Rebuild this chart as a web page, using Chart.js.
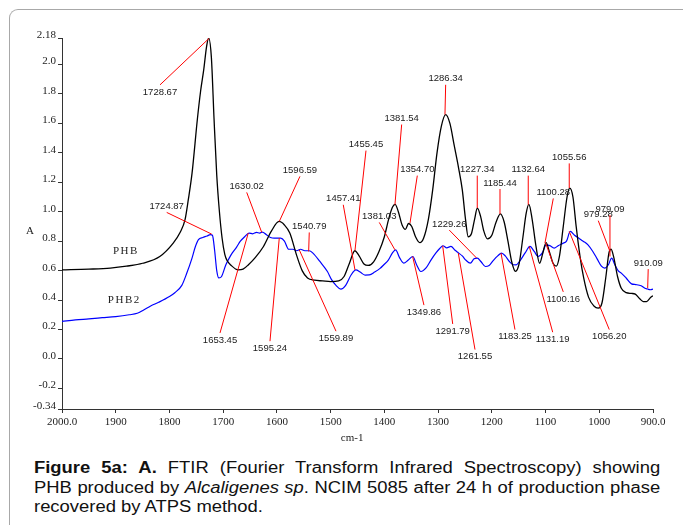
<!DOCTYPE html>
<html>
<head>
<meta charset="utf-8">
<script src="https://cdn.jsdelivr.net/npm/chart.js@4.4.0/dist/chart.umd.min.js"></script>
<style>
    body { margin: 0; background: #fff; }
    #frame {
        position: absolute; left: 9px; top: 9px; width: 690px; height: 560px;
        border-left: 1px solid #a8a8a8; border-top: 1px solid #a8a8a8;
        border-top-left-radius: 9px;
    }
    #ftir-chart { position: absolute; left: 0; top: 0; }
    /* the source figure is stretched sideways, so the caption is too */
    #caption {
        position: absolute; left: 34px; top: 458px; width: 544px;
        transform: scaleX(1.151); transform-origin: 0 0;
        font-family: "Liberation Sans", Arial, sans-serif; font-size: 16px;
        line-height: 19.5px; color: #111;
    }
    .justified { text-align: justify; text-align-last: justify; }
</style>
</head>
<body>
<div id="frame"></div>
<canvas id="ftir-chart" width="683" height="450"></canvas>
<div id="caption">
    <div class="justified"><b>Figure 5a: A.</b> FTIR (Fourier Transform Infrared Spectroscopy) showing</div>
    <div class="justified">PHB produced by <i>Alcaligenes sp</i>. NCIM 5085 after 24 h of production phase</div>
    <div>recovered by ATPS method.</div>
</div>
<script>
// --- Data ---
const xTicks = [2000, 1900, 1800, 1700, 1600, 1500, 1400, 1300, 1200, 1100, 1000, 900];
const yTicks = [2.18, 2.0, 1.8, 1.6, 1.4, 1.2, 1.0, 0.8, 0.6, 0.4, 0.2, 0.0, -0.2, -0.34];
const yTickLabels = ['2.18', '2.0', '1.8', '1.6', '1.4', '1.2', '1.0', '0.8', '0.6', '0.4', '0.2', '0.0', '-0.2', '-0.34'];

// PHB (black)
const phbWavenumber = [2000, 1950, 1910, 1880, 1850, 1818, 1793, 1780, 1771, 1765, 1758, 1748, 1742, 1736, 1731, 1727,
    1722, 1717, 1712, 1707, 1702, 1697, 1693, 1685, 1672, 1663, 1653, 1640, 1625, 1610, 1596, 1586, 1576, 1563,
    1553, 1543, 1530, 1515, 1500, 1485, 1475, 1465, 1455, 1447, 1438, 1430, 1420, 1410, 1400, 1392, 1385, 1380,
    1374, 1367, 1361, 1355, 1349, 1342, 1334, 1327, 1318, 1310, 1302, 1294, 1286, 1278, 1270, 1262, 1255, 1249,
    1244, 1238, 1232, 1227, 1221, 1215, 1208, 1200, 1192, 1184, 1177, 1170, 1163, 1156, 1149, 1142, 1136, 1131,
    1125, 1118, 1111, 1105, 1099, 1093, 1086, 1080, 1074, 1067, 1060, 1055, 1049, 1043, 1036, 1029, 1020, 1010,
    1002, 995, 988, 982, 978, 973, 966, 959, 950, 940, 933, 925, 918, 912, 905, 900];
const phbAbsorbance = [0.605, 0.61, 0.617, 0.63, 0.65, 0.696, 0.787, 0.86, 0.946, 1.08, 1.26, 1.63, 1.82, 1.97, 2.12, 2.18,
    2.05, 1.63, 1.25, 1.0, 0.82, 0.71, 0.67, 0.635, 0.605, 0.61, 0.64, 0.69, 0.764, 0.87, 0.934, 0.91, 0.855, 0.70,
    0.60, 0.55, 0.535, 0.53, 0.525, 0.53, 0.56, 0.65, 0.735, 0.70, 0.645, 0.635, 0.66, 0.73, 0.83, 0.95, 1.03, 1.05,
    1.00, 0.91, 0.88, 0.92, 0.90, 0.83, 0.79, 0.82, 0.95, 1.15, 1.40, 1.58, 1.66, 1.60, 1.45, 1.30, 1.15, 0.95,
    0.83, 0.85, 0.95, 1.025, 0.97, 0.87, 0.815, 0.84, 0.93, 0.985, 0.93, 0.80, 0.66, 0.595, 0.65, 0.83, 0.99, 1.05,
    0.95, 0.77, 0.65, 0.72, 0.79, 0.73, 0.65, 0.63, 0.70, 0.90, 1.10, 1.16, 1.10, 0.90, 0.70, 0.55, 0.42, 0.36,
    0.345, 0.38, 0.55, 0.72, 0.745, 0.69, 0.56, 0.48, 0.45, 0.445, 0.44, 0.41, 0.39, 0.39, 0.415, 0.43];

// PHB2 (blue)
const phb2Wavenumber = [2000, 1975, 1950, 1925, 1900, 1875, 1860, 1848, 1835, 1820, 1800, 1790, 1777, 1768, 1758, 1752,
    1746, 1738, 1730, 1724, 1720, 1716, 1712, 1708, 1703, 1695, 1688, 1683, 1675, 1668, 1660, 1652, 1645, 1638,
    1632, 1627, 1620, 1612, 1605, 1598, 1593, 1586, 1578, 1570, 1563, 1556, 1548, 1540, 1533, 1520, 1506, 1498,
    1490, 1481, 1472, 1462, 1453, 1445, 1436, 1428, 1418, 1408, 1401, 1393, 1385, 1379, 1372, 1364, 1356, 1347,
    1340, 1332, 1322, 1313, 1304, 1297, 1291, 1284, 1276, 1269, 1262, 1255, 1248, 1240, 1233, 1227, 1220, 1212,
    1205, 1197, 1189, 1182, 1175, 1167, 1160, 1155, 1147, 1138, 1129, 1121, 1114, 1106, 1099, 1092, 1084, 1076,
    1068, 1061, 1054, 1046, 1038, 1030, 1021, 1012, 1004, 996, 990, 983, 977, 971, 965, 959, 950, 940, 932, 922,
    915, 910, 905, 900];
const phb2Absorbance = [0.255, 0.265, 0.272, 0.28, 0.288, 0.30, 0.31, 0.333, 0.36, 0.385, 0.424, 0.45, 0.50, 0.58, 0.685, 0.76,
    0.81, 0.825, 0.835, 0.845, 0.84, 0.74, 0.60, 0.55, 0.56, 0.64, 0.69, 0.72, 0.76, 0.80, 0.83, 0.855, 0.85, 0.86,
    0.855, 0.862, 0.845, 0.825, 0.82, 0.82, 0.82, 0.80, 0.745, 0.745, 0.735, 0.745, 0.735, 0.735, 0.719, 0.662, 0.594, 0.537,
    0.50, 0.474, 0.50, 0.57, 0.605, 0.59, 0.57, 0.571, 0.59, 0.615, 0.64, 0.67, 0.72, 0.741, 0.69, 0.651, 0.67, 0.696,
    0.64, 0.594, 0.62, 0.673, 0.72, 0.75, 0.769, 0.755, 0.764, 0.74, 0.72, 0.70, 0.67, 0.651, 0.68, 0.685, 0.66, 0.628,
    0.635, 0.67, 0.70, 0.719, 0.70, 0.66, 0.64, 0.639, 0.67, 0.72, 0.764, 0.73, 0.696, 0.72, 0.775, 0.77, 0.753, 0.77,
    0.785, 0.80, 0.866, 0.84, 0.82, 0.80, 0.775, 0.73, 0.68, 0.63, 0.617, 0.64, 0.685, 0.64, 0.60, 0.583, 0.55, 0.51, 0.505, 0.497,
    0.48, 0.475, 0.47, 0.474];

// Peak annotations: text, peak [cm-1, A], label centre [cm-1, A]
const peakTexts = ['1728.67', '1724.87', '1653.45', '1630.02', '1596.59', '1595.24', '1540.79', '1559.89',
    '1457.41', '1455.45', '1381.54', '1381.03', '1354.70', '1349.86', '1286.34', '1291.79', '1261.55',
    '1229.26', '1227.34', '1185.44', '1183.25', '1132.64', '1131.19', '1100.28', '1100.16', '1055.56',
    '1056.20', '979.28', '979.09', '910.09'];
const peakPoints = [[1726.4, 2.177], [1721.4, 0.848], [1653.3, 0.855], [1628.3, 0.860], [1595.6, 0.934],
    [1595.6, 0.821], [1540.9, 0.730], [1558.4, 0.741], [1454.7, 0.605], [1454.7, 0.737], [1380.3, 1.048],
    [1380.3, 0.741], [1352.3, 0.923], [1347.4, 0.696], [1287.2, 1.660], [1291.5, 0.769], [1262.4, 0.719],
    [1228.2, 0.685], [1227.1, 1.025], [1184.8, 0.984], [1182.9, 0.719], [1132.2, 1.048], [1130.3, 0.764],
    [1101.1, 0.787], [1099.8, 0.787], [1055.9, 1.161], [1055.9, 0.866], [980.1, 0.730], [980.1, 0.696],
    [909.9, 0.481]];
const peakLabelAt = [[1817.6, 1.814], [1805.1, 1.036], [1705.9, 0.129], [1656.2, 1.172], [1557.1, 1.281],
    [1612.9, 0.073], [1539.8, 0.900], [1490.0, 0.141], [1476.5, 1.088], [1434.2, 1.456], [1367.8, 1.633],
    [1409.5, 0.968], [1338.7, 1.286], [1326.3, 0.318], [1285.9, 1.903], [1272.8, 0.190], [1231.3, 0.016],
    [1279.2, 0.916], [1227.1, 1.286], [1184.8, 1.195], [1156.9, 0.152], [1132.2, 1.286], [1086.7, 0.134],
    [1085.6, 1.131], [1067.0, 0.408], [1055.9, 1.369], [981.4, 0.152], [1001.9, 0.980], [980.1, 1.018],
    [908.9, 0.651]];

// --- Annotation Plugin ---
const peakLabelPlugin = {
    id: 'peakLabels',
    afterDatasetsDraw(chart) {
        const { ctx, scales: { x, y } } = chart;
        ctx.save();
        ctx.strokeStyle = '#ff0000';
        ctx.lineWidth = 1;
        ctx.font = '9.5px "Liberation Sans", Arial, sans-serif';
        ctx.fillStyle = '#1a1a1a';
        ctx.textAlign = 'center';
        ctx.textBaseline = 'middle';
        peakTexts.forEach((text, i) => {
            const px = x.getPixelForValue(peakPoints[i][0]);
            const py = y.getPixelForValue(peakPoints[i][1]);
            const lx = x.getPixelForValue(peakLabelAt[i][0]);
            const ly = y.getPixelForValue(peakLabelAt[i][1]);
            const gap = py > ly ? 6 : -7;
            ctx.beginPath();
            ctx.moveTo(lx, ly + gap);
            ctx.lineTo(px, py);
            ctx.stroke();
            ctx.fillText(text, lx, ly);
        });

        // Series and axis names
        ctx.font = '11px "Liberation Serif", "Times New Roman", serif';
        ctx.fillStyle = '#222';
        ctx.letterSpacing = '1.5px';
        ctx.fillText('PHB', x.getPixelForValue(1881), y.getPixelForValue(0.73));
        ctx.fillText('PHB2', x.getPixelForValue(1884), y.getPixelForValue(0.397));
        ctx.letterSpacing = '0px';
        ctx.fillText('A', chart.chartArea.left - 32, y.getPixelForValue(0.866));
        ctx.fillText('cm-1', x.getPixelForValue(1460), chart.chartArea.bottom + 29);
        ctx.restore();
    }
};

// --- Chart ---
const toPoints = (xs, ys) => xs.map((w, i) => ({ x: w, y: ys[i] }));
const tickFont = { family: '"Liberation Serif", "Times New Roman", serif', size: 11 };

new Chart(document.getElementById('ftir-chart').getContext('2d'), {
    type: 'line',
    data: {
        datasets: [{
            label: 'PHB',
            data: toPoints(phbWavenumber, phbAbsorbance),
            borderColor: '#000000',
            borderWidth: 1.3,
            pointRadius: 0,
            cubicInterpolationMode: 'monotone'
        }, {
            label: 'PHB2',
            data: toPoints(phb2Wavenumber, phb2Absorbance),
            borderColor: '#0000ff',
            borderWidth: 1.2,
            pointRadius: 0,
            cubicInterpolationMode: 'monotone'
        }]
    },
    options: {
        responsive: false,
        animation: false,
        layout: { padding: { left: 0, right: 30, top: 38, bottom: 0 } },
        plugins: { legend: { display: false }, tooltip: { enabled: false } },
        scales: {
            x: {
                type: 'linear', reverse: true, min: 900, max: 2000,
                afterBuildTicks: (scale) => { scale.ticks = xTicks.map(v => ({ value: v })); },
                afterFit: (scale) => { scale.height = 41; },
                ticks: {
                    font: tickFont, color: '#222', padding: 3, maxRotation: 0, autoSkip: false,
                    callback: (v) => (v === 2000 || v === 900) ? v.toFixed(1) : String(v)
                },
                grid: { drawOnChartArea: false, tickLength: 4, color: '#333' },
                border: { color: '#333', width: 1 }
            },
            y: {
                min: -0.34, max: 2.18,
                afterBuildTicks: (scale) => { scale.ticks = yTicks.map(v => ({ value: v })); },
                afterFit: (scale) => { scale.width = 62; },
                ticks: {
                    font: tickFont, color: '#222', padding: 2, labelOffset: -3, autoSkip: false,
                    callback: (v, i) => yTickLabels[i]
                },
                grid: { drawOnChartArea: false, tickLength: 4, color: '#333' },
                border: { color: '#333', width: 1 }
            }
        }
    },
    plugins: [peakLabelPlugin]
});
</script>
</body>
</html>
